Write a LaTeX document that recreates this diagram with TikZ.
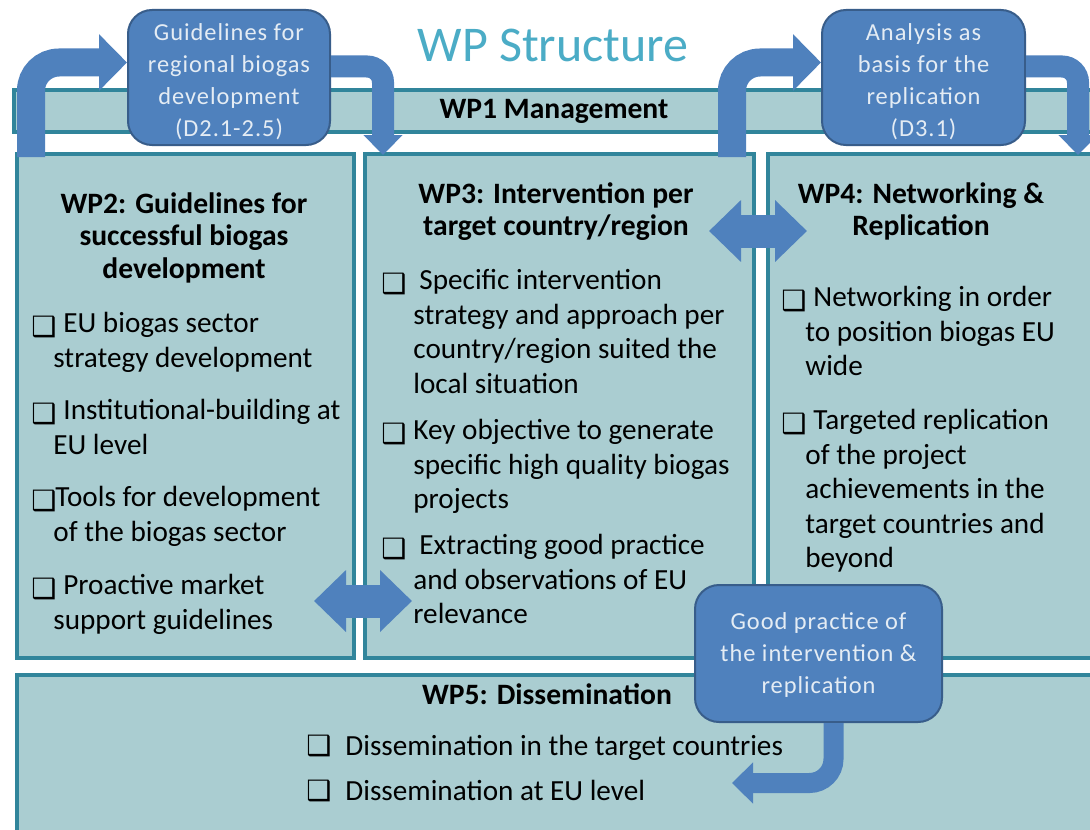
\documentclass[tikz,border=0pt]{standalone}
\usepackage{fontspec}
\setmainfont{Carlito}
\newfontfamily\symfont{DejaVu Sans}
\newfontfamily\callfont[LetterSpace=4]{Carlito}
\usepackage{tikz}
\usetikzlibrary{arrows.meta, positioning, calc}
\usepackage{xcolor}
\definecolor{TitleBlue}{RGB}{75,172,198}
\definecolor{WPFill}{RGB}{170,205,209}
\definecolor{WPEdge}{RGB}{49,133,155}
\definecolor{CallBlue}{RGB}{79,129,189}
\definecolor{CallEdge}{RGB}{56,93,138}
\definecolor{CallText}{RGB}{228,236,244}
\tikzset{
  wpbox/.style={rectangle,draw=WPEdge,line width=2pt,fill=WPFill,
    inner sep=0pt,anchor=north west},
  wptitle/.style={align=center,anchor=north,inner sep=0pt,
    font=\fontsize{14.8}{16.25}\selectfont\bfseries,execute at begin node=\strut},
  itemtext/.style={align=left,anchor=north west,inner sep=0pt,
    font=\fontsize{14.6}{17.25}\selectfont,execute at begin node=\strut},
  chkbox/.style={itemtext,font=\fontsize{14}{17.25}\selectfont\symfont},
  callout/.style={rectangle,rounded corners=12pt,draw=CallEdge,line width=1pt,
    fill=CallBlue,minimum width=101pt,minimum height=67.5pt},
  callouttext/.style={align=center,inner sep=0pt,text=CallText,
    font=\fontsize{12.2}{16}\selectfont\callfont},
  bentarrow/.style={-{Triangle[width=27.5pt,length=14pt]},line width=14pt,
    draw=CallBlue,rounded corners=14pt},
  droparrow/.style={-{Triangle[width=19pt,length=10pt]},line width=11pt,
    draw=CallBlue,rounded corners=8pt},
  backarrow/.style={-{Triangle[width=20pt,length=10.5pt]},line width=10pt,
    draw=CallBlue,rounded corners=12pt},
  dblarrow/.style={{Triangle[width=30pt,length=16pt]}-{Triangle[width=30pt,length=16pt]},
    line width=16.5pt,draw=CallBlue}
}
\begin{document}
\begin{tikzpicture}[x=0.5pt,y=-0.5pt]
  \clip (0,0) rectangle (1090,829);
  \fill[white] (0,0) rectangle (1090,829);
  \node[font=\fontsize{25}{30}\selectfont,text=TitleBlue] (title) at (553,45) {WP Structure};

  \node[wpbox,minimum width=544pt,minimum height=21pt] (wp1) at (12,88) {};
  \node[font=\fontsize{14.8}{17}\selectfont\bfseries] (wp1t) at (554,111) {WP1 Management};

  \node[wpbox,minimum width=168.5pt,minimum height=252pt] (wp2) at (15,152) {};
  \node[wpbox,minimum width=194.5pt,minimum height=252pt] (wp3) at (363,152) {};
  \node[wpbox,minimum width=170pt,minimum height=252pt] (wp4) at (766,152) {};
  \node[wpbox,minimum width=545pt,minimum height=85pt] (wp5) at (15,673) {};

  \node[wptitle] (wp2t) at (184,192) {WP2: Guidelines for\\successful biogas\\development};
  \node[wptitle] (wp3t) at (556,182) {WP3: Intervention per\\target country/region};
  \node[wptitle] (wp4t) at (921,182) {WP4: Networking \&\\Replication};
  \node[wptitle] (wp5t) at (547,681) {WP5: Dissemination};

  \node[chkbox] (c2a) at (31,312) {❑};
  \node[itemtext] (t2a) at (53,312) {\hspace{5pt}EU biogas sector\\strategy development};
  \node[chkbox] (c2b) at (31,399) {❑};
  \node[itemtext] (t2b) at (53,399) {\hspace{5pt}Institutional-building at\\EU level};
  \node[chkbox] (c2c) at (31,486) {❑};
  \node[itemtext] (t2c) at (53,486) {\hspace{1pt}Tools for development\\of the biogas sector};
  \node[chkbox] (c2d) at (31,574) {❑};
  \node[itemtext] (t2d) at (53,574) {\hspace{5pt}Proactive market\\support guidelines};

  \node[chkbox] (c3a) at (381,269) {❑};
  \node[itemtext] (t3a) at (413,269) {\hspace{3pt}Specific intervention\\strategy and approach  per\\country/region suited the\\local situation};
  \node[chkbox] (c3b) at (381,419) {❑};
  \node[itemtext] (t3b) at (413,419) {Key objective  to generate\\specific high quality biogas\\projects};
  \node[chkbox] (c3c) at (381,534) {❑};
  \node[itemtext] (t3c) at (413,534) {\hspace{3pt}Extracting good practice\\and observations of EU\\relevance};

  \node[chkbox] (c4a) at (781,286) {❑};
  \node[itemtext] (t4a) at (805,286) {\hspace{4pt}Networking in order\\to position biogas EU\\wide};
  \node[chkbox] (c4b) at (781,409) {❑};
  \node[itemtext] (t4b) at (805,409) {\hspace{4pt}Targeted replication\\of the project\\achievements in the\\target countries and\\beyond};

  \node[chkbox] (c5a) at (306,731) {❑};
  \node[itemtext] (t5a) at (345,731) {Dissemination in the target countries};
  \node[chkbox] (c5b) at (306,776) {❑};
  \node[itemtext] (t5b) at (345,776) {Dissemination at EU level};

  \draw[dblarrow] ($(wp3.north east)+(-47,79)$) -- ($(wp4.north west)+(41,79)$);
  \draw[dblarrow] ($(wp2.south east)+(-42,-59)$) -- ($(wp3.south west)+(49,-59)$);

  \node[callout] (g1) at (229,77.5) {};
  \node[callouttext] (g1t) at (229,82) {Guidelines for\\regional biogas\\development\\(D2.1-2.5)};
  \node[callout,minimum width=101.5pt] (g2) at (923.5,77.5) {};
  \node[callouttext] (g2t) at (923.5,82) {Analysis as\\basis for the\\replication\\(D3.1)};
  \node[callout,minimum width=123.5pt,minimum height=68.5pt] (g3) at (818.5,653.5) {};
  \node[callouttext] (g3t) at (818.5,655) {Good practice of\\the intervention \&\\replication};
  \coordinate (d5) at (732,783);

  \draw[bentarrow] ($(wp2.north west)+(16,5)$) |- ($(g1.west)+(0,-15)$);
  \draw[droparrow] ($(g1.east)+(0,-11)$) -| ($(wp3.north west)+(20,3)$);
  \draw[bentarrow] ($(wp3.north east)+(-24,5)$) |- ($(g2.west)+(0,-15)$);
  \draw[droparrow] ($(g2.east)+(0,-11)$) -| ($(wp4.north west)+(312,3)$);
  \draw[backarrow] ($(g3.south)+(15,0)$) |- (d5);
\end{tikzpicture}
\end{document}
